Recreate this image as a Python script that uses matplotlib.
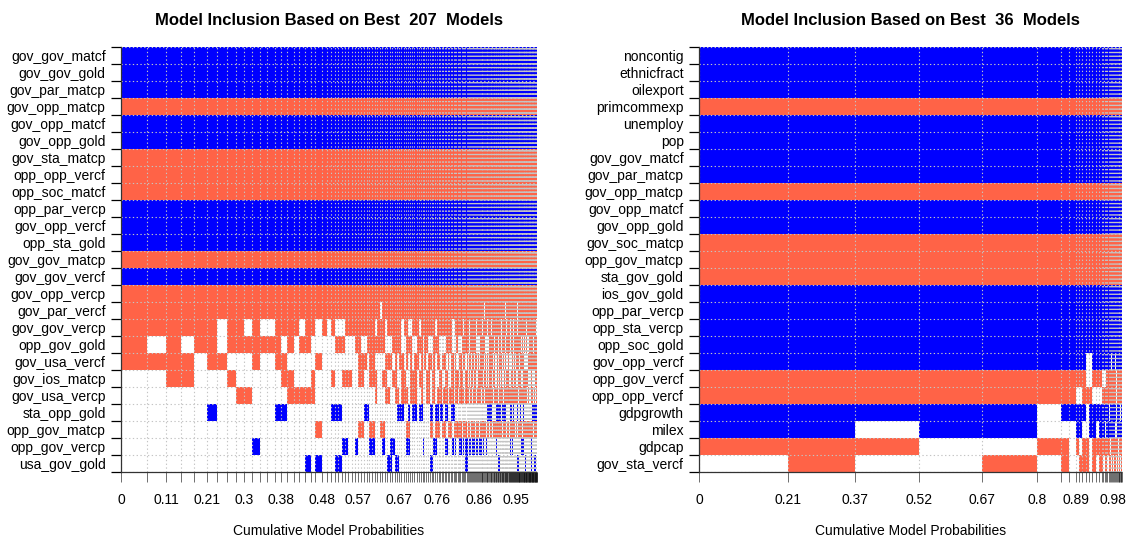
import numpy as np
import matplotlib
matplotlib.use("Agg")
import matplotlib.pyplot as plt

plt.rcParams['font.family'] = ['Liberation Sans', 'DejaVu Sans']

RED = "#FF6347"     # positive coefficient
BLUE = "#0000FF"    # negative coefficient

#----------------------------- left panel: best 207 models -----------------------------

left_vars = ["gov_gov_matcf", "gov_gov_gold", "gov_par_matcp", "gov_opp_matcp",
             "gov_opp_matcf", "gov_opp_gold", "gov_sta_matcp", "opp_opp_vercf",
             "opp_soc_matcf", "opp_par_vercp", "gov_opp_vercf", "opp_sta_gold",
             "gov_gov_matcp", "gov_gov_vercf", "gov_opp_vercp", "gov_par_vercf",
             "gov_gov_vercp", "opp_gov_gold", "gov_usa_vercf", "gov_ios_matcp",
             "gov_usa_vercp", "sta_opp_gold", "opp_gov_matcp", "opp_gov_vercp",
             "usa_gov_gold"]
# sign of the coefficient per variable (+ red, - blue)
left_signs = "---+--+++---+-+++++++-+--"

left_probs = [
    0.063, 0.045, 0.036, 0.032, 0.030, 0.024, 0.024, 0.022, 0.020, 0.020,
    0.018, 0.018, 0.017, 0.015, 0.016, 0.015, 0.014, 0.014, 0.013, 0.011,
    0.016, 0.012, 0.010, 0.009,
    0.0085, 0.0082, 0.008, 0.008, 0.0078, 0.0076, 0.0074, 0.0072, 0.007, 0.0068,
    0.0066, 0.0065, 0.0064, 0.0063, 0.0062, 0.0061, 0.006, 0.0059, 0.0058, 0.0057,
    0.0056, 0.0055, 0.0055, 0.0054, 0.0054, 0.0053, 0.0053, 0.0052, 0.0052, 0.0051,
    0.005, 0.0049, 0.0048, 0.0047, 0.0046, 0.0045, 0.0044, 0.0043, 0.0043, 0.0042,
    0.0042, 0.0041, 0.004, 0.0039, 0.0039, 0.0038, 0.0037, 0.0036, 0.0036, 0.0035,
    0.0035, 0.0034, 0.0034, 0.0033, 0.0033, 0.0032, 0.0032, 0.0031, 0.0031, 0.003,
    0.003, 0.0029, 0.0028, 0.0027, 0.0027, 0.0026, 0.0026, 0.0025, 0.0025, 0.0024,
    0.0024, 0.0024, 0.0023, 0.0023, 0.0022, 0.0022, 0.0022, 0.0021, 0.0021, 0.0021,
    0.002, 0.002, 0.002, 0.002, 0.0019, 0.0019, 0.0019, 0.0019, 0.0018, 0.0018,
    0.0018, 0.0018, 0.0018, 0.0017, 0.0017, 0.0017, 0.0017, 0.0016, 0.0016, 0.0016,
    0.0016, 0.0016, 0.0015, 0.0015, 0.0015, 0.0015, 0.0015, 0.0014, 0.0014, 0.0014,
    0.0014, 0.0014, 0.0014, 0.0014, 0.0013, 0.0013, 0.0013, 0.0013, 0.0013, 0.0013,
    0.0013, 0.0013, 0.0012, 0.0012, 0.0012, 0.0012, 0.0012, 0.0012, 0.0012, 0.0012,
    0.0012, 0.0012, 0.0012, 0.0011, 0.0011, 0.0011, 0.0011, 0.0011, 0.0011, 0.0011,
    0.0011, 0.0011, 0.0011, 0.0011, 0.0011, 0.0011, 0.001, 0.001, 0.001, 0.001,
    0.001, 0.001, 0.001, 0.001, 0.001, 0.001, 0.001, 0.001, 0.001, 0.001,
    0.001, 0.001, 0.0009, 0.0009, 0.0009, 0.0009, 0.0009, 0.0009, 0.0009, 0.0009,
    0.0009, 0.0009, 0.0009, 0.0009, 0.0009, 0.0009, 0.0009, 0.0009, 0.0008, 0.0008,
    0.0008, 0.0008, 0.0008]

# inclusion per model (1 = in model, 0 = not, x = in model with opposite sign)
# variables not listed here are in every one of the models
left_incl = {
    "gov_par_vercf": "1111111111 1111111111 1111111111 1111111110 1111111111 1111111111 1111111111 "
                     "1111111111 1111111111 1111111111 1111101111 1111111111 1111111111 1111101111 "
                     "1111111111 1111111101 1111111111 1110111111 1111111111 1111111111 1111111",
    "gov_gov_vercp": "1111110110 1001111011 0101000111 1111111011 1011111101 1001110111 1111101111 "
                     "1111110011 1111011110 1111110111 1110111110 1111011111 1110111101 1111011011 "
                     "1110001111 0011101101 1011110111 1101101110 1101011111 1110110101 1011101",
    "opp_gov_gold":  "1010110111 1111010110 0000111000 1100111111 1000111100 1110011101 1000111000 "
                     "0011110001 0001111110 1111110000 1101110000 0111111101 1111011101 1011101111 "
                     "1110011011 0111101110 1101111011 0001100011 0010111101 1101111011 1110111",
    "gov_usa_vercf": "1111011000 1001100000 1000000000 0111011000 0111010110 1010110101 0110101101 "
                     "1101011010 0110110101 1011011010 1101101011 0110110110 1011010111 0110111010 "
                     "1101010111 0111011010 1010111101 0111010110 1011101011 0110110111 1011011",
    "gov_ios_matcp": "0011000100 0000110001 0001001110 0110011100 1100110011 0011101100 1101100110 "
                     "0110011011 1011001101 0110110011 1101011001 0110101110 1011010011 0101101101 "
                     "1101011010 0110110101 1011011010 0101101101 1100110110 0111011010 1011010",
    "gov_usa_vercp": "0000000011 0000011111 0000000000 0000000100 0110011011 1011100100 1101101110 "
                     "1110111011 0111101110 1101110111 1011101101 1110110111 0111011110 1101110101 "
                     "1011111011 1110101110 0111110111 1101101111 1011110110 1110111011 1101111",
    "sta_opp_gold":  "0000010000 0001100000 0001110000 0001100000 0000001110 0101101100 0011011011 "
                     "0110011100 0000000000 0000000000 0000000011 1111100000 0110110100 1011010000 "
                     "0000101101 1000000010 0000010000 0100000000 0000000000 0000110111 1110111",
    "opp_gov_matcp": "0000000000 0000000000 1000000000 0110011001 1000000000 1100000000 0011011101 "
                     "1101110111 1110111011 0111101110 1101111011 1011101111 1110110111 0111111011 "
                     "1101101111 1111011101 1011111110 1110111111 1111101111 1111111011 1111111",
    "opp_gov_vercp": "0000000000 1000000000 0000001100 1000011000 1001100000 1100000010 0000110000 "
                     "0110001010 0110101101 1011101101 1100100100 0000000000 0100000000 0000000010 "
                     "0000110110 0000000000 0000001111 1100000000 0000000000 0110000000 1101100",
    "usa_gov_gold":  "0000000000 0000000010 1000110000 0000000000 0011011000 0000000000 0011000000 "
                     "0000000000 0000001100 0000000000 0000000010 0000000000 0000110000 0000000000 "
                     "0000000000 0000000011 1100000000 0000011000 0000000000 0100000011 111000x",
}
left_labels = [0, 0.11, 0.21, 0.3, 0.38, 0.48, 0.57, 0.67, 0.76, 0.86, 0.95]

#----------------------------- right panel: best 36 models -----------------------------

right_vars = ["noncontig", "ethnicfract", "oilexport", "primcommexp", "unemploy", "pop",
              "gov_gov_matcf", "gov_par_matcp", "gov_opp_matcp", "gov_opp_matcf",
              "gov_opp_gold", "gov_soc_matcp", "opp_gov_matcp", "sta_gov_gold",
              "ios_gov_gold", "opp_par_vercp", "opp_sta_vercp", "opp_soc_gold",
              "gov_opp_vercf", "opp_gov_vercf", "opp_opp_vercf", "gdpgrowth", "milex",
              "gdpcap", "gov_sta_vercf"]
right_signs = "---+----+--+++-----++--++"

right_probs = [0.21, 0.16, 0.15, 0.15, 0.13, 0.057, 0.018, 0.016,
               0.0082, 0.008, 0.008, 0.0078, 0.0078, 0.0076, 0.0075, 0.0074,
               0.0036, 0.0034, 0.0032, 0.003, 0.0029, 0.0028, 0.0027, 0.0026, 0.0025, 0.0024,
               0.0023, 0.0022, 0.0021, 0.002, 0.0019, 0.0018, 0.0017, 0.0016, 0.0015, 0.0014]

right_incl = {
    "gov_opp_vercf": "1111111111 1001111111 1110111011 111101",
    "opp_gov_vercf": "1111111111 1001110001 1111111101 111111",
    "opp_opp_vercf": "1111111100 1110001111 1111111101 111111",
    "gdpgrowth":     "1111101111 1011111111 1011111101 111011",
    "milex":         "1101100011 0011011101 1111111001 111111",
    "gdpcap":        "1110011010 1101111111 1101111111 011111",
    "gov_sta_vercf": "0100101001 1101011011 0110101101 011011",
}
right_labels = [0, 0.21, 0.37, 0.52, 0.67, 0.8, 0.89, 0.98]

#----------------------------- drawing -----------------------------


def draw_panel(ax, names, signs, probs, incl, labels, title):
    """one inclusion image: columns are models (width = post. prob), rows are variables"""
    probs = np.array(probs)
    edges = np.concatenate([[0], np.cumsum(probs)])
    nm = len(probs)
    n = len(names)
    for i, name in enumerate(names):
        row = incl.get(name, "1" * nm).replace(" ", "")
        row = (row + "0" * nm)[:nm]
        y = n - 1 - i
        spans = {RED: [], BLUE: []}
        for j, c in enumerate(row):
            if c == "0":
                continue
            pos = (signs[i] == "+") != (c == "x")
            col = RED if pos else BLUE
            # merge with previous span when neighbouring and same colour
            if spans[col] and abs(spans[col][-1][0] + spans[col][-1][1] - edges[j]) < 1e-12:
                spans[col][-1] = (spans[col][-1][0], spans[col][-1][1] + probs[j])
            else:
                spans[col].append((edges[j], probs[j]))
        for col in spans:
            if spans[col]:
                ax.broken_barh(spans[col], (y, 1), facecolors=col, edgecolor="none",
                               linewidth=0, zorder=1)

    # dotted grid at model and row boundaries
    ax.vlines(edges, 0, n, colors="#c4c4c4", linestyles=(0, (1.2, 2.2)), linewidth=0.8, zorder=2)
    ax.hlines(np.arange(n + 1), 0, edges[-1], colors="#c4c4c4", linestyles=(0, (1.2, 2.2)),
              linewidth=0.8, zorder=2)

    ax.set_xlim(0, edges[-1])
    ax.set_ylim(0, n)

    # x ticks at every model boundary, text only at the values shown in the picture
    xt_lab = [""] * len(edges)
    for v in labels:
        k = int(np.argmin(np.abs(edges - v)))
        xt_lab[k] = f"{v:g}"
    ax.set_xticks(edges)
    ax.set_xticklabels(xt_lab, fontsize=10)
    ax.tick_params(axis="x", length=7, width=0.4, pad=8, color="black")

    # y ticks at the row boundaries, names at the centres
    ax.set_yticks(np.arange(n + 1))
    ax.set_yticklabels([""] * (n + 1))
    ax.set_yticks(np.arange(n) + 0.5, minor=True)
    ax.set_yticklabels(names[::-1], minor=True, fontsize=10)
    ax.tick_params(axis="y", which="major", length=7, width=0.9, color="black")
    ax.tick_params(axis="y", which="minor", length=0, pad=11)

    for s in ["top", "right"]:
        ax.spines[s].set_visible(False)
    for s in ["left", "bottom"]:
        ax.spines[s].set_color("#333333")
        ax.spines[s].set_linewidth(0.9)
        ax.spines[s].set_linestyle((0, (2, 1)))

    ax.set_title(title, fontsize=12, fontweight="bold", pad=16)
    ax.set_xlabel("Cumulative Model Probabilities", fontsize=10)
    ax.xaxis.set_label_coords(0.5, -0.122)


fig = plt.figure(figsize=(11.26, 5.37), dpi=100)
ax1 = fig.add_axes([121 / 1126, 65 / 537, 416 / 1126, 425 / 537])
ax2 = fig.add_axes([699 / 1126, 65 / 537, 423 / 1126, 425 / 537])

draw_panel(ax1, left_vars, left_signs, left_probs, left_incl, left_labels,
           "Model Inclusion Based on Best  207  Models")
draw_panel(ax2, right_vars, right_signs, right_probs, right_incl, right_labels,
           "Model Inclusion Based on Best  36  Models")

fig.savefig("out.png", dpi=100)
